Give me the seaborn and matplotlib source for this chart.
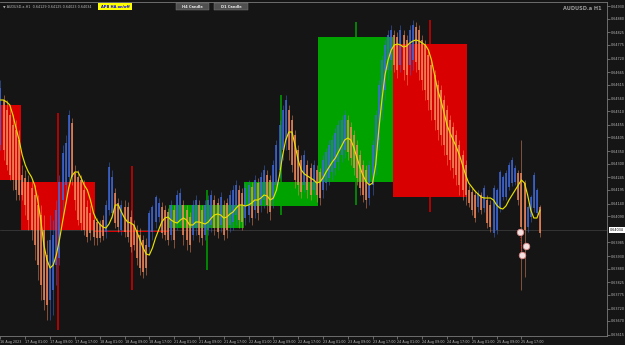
import numpy as np
import pandas as pd
import matplotlib
matplotlib.use("Agg")
import matplotlib.pyplot as plt
from matplotlib.patches import Rectangle
import seaborn as sns

# ---------------- data ----------------
bar_times = [t for t in pd.date_range("2023-08-16 17:00", "2023-08-25 23:00", freq="h") if t.weekday() < 5]

ha_open = [0.64374, 0.64554, 0.64514, 0.64494, 0.64454, 0.64434, 0.64394, 0.64254, 0.64242, 0.64226,
           0.64202, 0.64174, 0.64134, 0.64094, 0.64034, 0.63934, 0.63754, 0.63794, 0.63894, 0.63922,
           0.64154, 0.64214, 0.64246, 0.64462, 0.64262, 0.64246, 0.64234, 0.64194, 0.64126, 0.64102,
           0.64074, 0.64066, 0.64058, 0.64074, 0.64026, 0.64114, 0.64102, 0.64182, 0.64142, 0.64034,
           0.64126, 0.64126, 0.64086, 0.64054, 0.64034, 0.64014, 0.63994, 0.63974, 0.63966, 0.64026,
           0.64066, 0.64086, 0.64126, 0.64114, 0.64106, 0.64014, 0.64114, 0.64066, 0.64074, 0.64134,
           0.64114, 0.64086, 0.64014, 0.64042, 0.64134, 0.64114, 0.64014, 0.64034, 0.64054, 0.64154,
           0.64142, 0.64054, 0.64134, 0.64142, 0.64054, 0.64066, 0.64094, 0.64194, 0.64182, 0.64082,
           0.64094, 0.64206, 0.64114, 0.64222, 0.64134, 0.64154, 0.64254, 0.64234, 0.64154, 0.64214,
           0.64274, 0.64354, 0.64394, 0.64514, 0.64474, 0.64414, 0.64354, 0.64314, 0.64214, 0.64294,
           0.64282, 0.64194, 0.64274, 0.64266, 0.64194, 0.64222, 0.64242, 0.64266, 0.64282, 0.64306,
           0.64334, 0.64354, 0.64474, 0.64446, 0.64414, 0.64374, 0.64334, 0.64294, 0.64274, 0.64162,
           0.64214, 0.64294, 0.64394, 0.64514, 0.64594, 0.64674, 0.64714, 0.64814, 0.64806, 0.64694,
           0.64814, 0.64794, 0.64694, 0.64714, 0.64846, 0.64834, 0.64794, 0.64774, 0.64734, 0.64694,
           0.64654, 0.64614, 0.64594, 0.64554, 0.64514, 0.64474, 0.64446, 0.64414, 0.64374, 0.64334,
           0.64294, 0.64194, 0.64186, 0.64174, 0.64126, 0.64174, 0.64122, 0.64154, 0.64134, 0.64022,
           0.64034, 0.64122, 0.64166, 0.64166, 0.64206, 0.64222, 0.64226, 0.64262, 0.64262, 0.64222,
           0.64046, 0.64086, 0.64122, 0.64102, 0.64126]
ha_close = [0.64602, 0.64354, 0.64294, 0.64254, 0.64234, 0.64194, 0.64174, 0.64174, 0.64134, 0.64074,
            0.64034, 0.63974, 0.63894, 0.63814, 0.63754, 0.63734, 0.63994, 0.64014, 0.64114, 0.64226,
            0.64342, 0.64382, 0.64494, 0.64246, 0.64154, 0.64074, 0.64062, 0.64034, 0.64006, 0.64022,
            0.64006, 0.64002, 0.64002, 0.64010, 0.64134, 0.64286, 0.64246, 0.64062, 0.64046, 0.64134,
            0.64026, 0.64006, 0.63966, 0.63974, 0.63922, 0.63882, 0.63866, 0.63882, 0.64102, 0.64126,
            0.64166, 0.64142, 0.64022, 0.64014, 0.63994, 0.64134, 0.63994, 0.64174, 0.64182, 0.64014,
            0.63994, 0.63974, 0.64134, 0.64154, 0.64014, 0.64002, 0.64134, 0.64154, 0.64174, 0.64042,
            0.64026, 0.64166, 0.64014, 0.64034, 0.64174, 0.64194, 0.64214, 0.64074, 0.64066, 0.64202,
            0.64214, 0.64082, 0.64234, 0.64102, 0.64246, 0.64274, 0.64134, 0.64106, 0.64294, 0.64374,
            0.64454, 0.64514, 0.64554, 0.64354, 0.64294, 0.64234, 0.64214, 0.64186, 0.64334, 0.64194,
            0.64174, 0.64294, 0.64174, 0.64162, 0.64314, 0.64346, 0.64374, 0.64394, 0.64422, 0.64454,
            0.64474, 0.64494, 0.64346, 0.64322, 0.64282, 0.64242, 0.64202, 0.64174, 0.64154, 0.64294,
            0.64374, 0.64494, 0.64614, 0.64714, 0.64774, 0.64814, 0.64834, 0.64694, 0.64674, 0.64834,
            0.64674, 0.64654, 0.64834, 0.64854, 0.64706, 0.64674, 0.64634, 0.64594, 0.64554, 0.64514,
            0.64474, 0.64434, 0.64414, 0.64374, 0.64334, 0.64314, 0.64282, 0.64254, 0.64214, 0.64194,
            0.64174, 0.64142, 0.64114, 0.64082, 0.64182, 0.64114, 0.64202, 0.64062, 0.64046, 0.64202,
            0.64194, 0.64266, 0.64246, 0.64262, 0.64294, 0.64314, 0.64282, 0.64154, 0.64046, 0.64034,
            0.64126, 0.64166, 0.64254, 0.64194, 0.64022]
ha_high = [0.64634, 0.64574, 0.64554, 0.64534, 0.64494, 0.64474, 0.64434, 0.64294, 0.64274, 0.64254,
           0.64234, 0.64214, 0.64174, 0.64134, 0.64094, 0.63994, 0.64094, 0.64074, 0.64154, 0.64254,
           0.64374, 0.64414, 0.64514, 0.64482, 0.64294, 0.64274, 0.64254, 0.64234, 0.64154, 0.64134,
           0.64094, 0.64082, 0.64074, 0.64094, 0.64154, 0.64306, 0.64274, 0.64202, 0.64162, 0.64154,
           0.64154, 0.64146, 0.64114, 0.64074, 0.64054, 0.64042, 0.64014, 0.64002, 0.64114, 0.64134,
           0.64174, 0.64162, 0.64146, 0.64134, 0.64122, 0.64154, 0.64134, 0.64194, 0.64202, 0.64154,
           0.64134, 0.64106, 0.64154, 0.64174, 0.64154, 0.64134, 0.64154, 0.64174, 0.64194, 0.64174,
           0.64162, 0.64186, 0.64154, 0.64162, 0.64194, 0.64214, 0.64234, 0.64214, 0.64202, 0.64222,
           0.64234, 0.64226, 0.64254, 0.64242, 0.64266, 0.64294, 0.64274, 0.64254, 0.64314, 0.64394,
           0.64474, 0.64534, 0.64574, 0.64534, 0.64494, 0.64434, 0.64374, 0.64334, 0.64354, 0.64314,
           0.64302, 0.64314, 0.64294, 0.64282, 0.64334, 0.64362, 0.64394, 0.64414, 0.64442, 0.64474,
           0.64494, 0.64514, 0.64494, 0.64466, 0.64434, 0.64394, 0.64354, 0.64314, 0.64294, 0.64314,
           0.64394, 0.64514, 0.64634, 0.64734, 0.64794, 0.64834, 0.64854, 0.64834, 0.64826, 0.64854,
           0.64834, 0.64814, 0.64854, 0.64874, 0.64866, 0.64854, 0.64814, 0.64794, 0.64754, 0.64714,
           0.64674, 0.64634, 0.64614, 0.64574, 0.64534, 0.64494, 0.64466, 0.64434, 0.64394, 0.64354,
           0.64314, 0.64214, 0.64202, 0.64194, 0.64194, 0.64186, 0.64214, 0.64174, 0.64154, 0.64214,
           0.64202, 0.64274, 0.64254, 0.64274, 0.64306, 0.64326, 0.64294, 0.64274, 0.64394, 0.64234,
           0.64134, 0.64174, 0.64266, 0.64202, 0.64134]
ha_low = [0.64354, 0.64314, 0.64274, 0.64234, 0.64194, 0.64154, 0.64154, 0.64154, 0.64094, 0.64034,
          0.63994, 0.63914, 0.63834, 0.63754, 0.63714, 0.63674, 0.63674, 0.63694, 0.63814, 0.63894,
          0.64094, 0.64154, 0.64214, 0.64214, 0.64114, 0.64054, 0.64034, 0.64014, 0.63986, 0.63994,
          0.63974, 0.63974, 0.63986, 0.63994, 0.64002, 0.64094, 0.64082, 0.64042, 0.64026, 0.64014,
          0.64006, 0.63986, 0.63946, 0.63954, 0.63894, 0.63854, 0.63842, 0.63854, 0.63934, 0.63994,
          0.64042, 0.64066, 0.64002, 0.63994, 0.63974, 0.63994, 0.63962, 0.64034, 0.64054, 0.63974,
          0.63954, 0.63946, 0.63994, 0.64014, 0.63986, 0.63974, 0.63994, 0.64014, 0.64026, 0.64014,
          0.64002, 0.64026, 0.63994, 0.64002, 0.64026, 0.64034, 0.64054, 0.64042, 0.64034, 0.64054,
          0.64066, 0.64054, 0.64082, 0.64074, 0.64106, 0.64122, 0.64102, 0.64074, 0.64122, 0.64186,
          0.64242, 0.64314, 0.64354, 0.64314, 0.64266, 0.64202, 0.64174, 0.64162, 0.64186, 0.64162,
          0.64154, 0.64174, 0.64146, 0.64134, 0.64162, 0.64194, 0.64214, 0.64234, 0.64254, 0.64274,
          0.64306, 0.64322, 0.64314, 0.64294, 0.64254, 0.64214, 0.64174, 0.64146, 0.64122, 0.64134,
          0.64174, 0.64254, 0.64354, 0.64474, 0.64554, 0.64634, 0.64674, 0.64666, 0.64642, 0.64666,
          0.64634, 0.64614, 0.64654, 0.64674, 0.64666, 0.64634, 0.64594, 0.64554, 0.64514, 0.64474,
          0.64434, 0.64394, 0.64374, 0.64334, 0.64294, 0.64274, 0.64242, 0.64214, 0.64174, 0.64154,
          0.64134, 0.64126, 0.64094, 0.64066, 0.64106, 0.64098, 0.64106, 0.64042, 0.64026, 0.64006,
          0.64018, 0.64106, 0.64154, 0.64154, 0.64194, 0.64210, 0.64214, 0.64134, 0.63794, 0.63846,
          0.64026, 0.64066, 0.64106, 0.64086, 0.64006]
smooth_line = [0.64554, 0.64554, 0.64546, 0.64534, 0.64494, 0.64442, 0.64394, 0.64334, 0.64294, 0.64266,
               0.64246, 0.64214, 0.64154, 0.64074, 0.63974, 0.63914, 0.63882, 0.63894, 0.63934, 0.63994,
               0.64066, 0.64134, 0.64202, 0.64250, 0.64266, 0.64266, 0.64242, 0.64214, 0.64194, 0.64154,
               0.64102, 0.64074, 0.64058, 0.64046, 0.64042, 0.64058, 0.64086, 0.64134, 0.64134, 0.64106,
               0.64082, 0.64066, 0.64062, 0.64054, 0.64026, 0.63994, 0.63962, 0.63938, 0.63934, 0.63962,
               0.64002, 0.64034, 0.64066, 0.64082, 0.64086, 0.64074, 0.64066, 0.64062, 0.64074, 0.64082,
               0.64074, 0.64054, 0.64054, 0.64066, 0.64066, 0.64062, 0.64058, 0.64066, 0.64082, 0.64094,
               0.64098, 0.64094, 0.64082, 0.64086, 0.64098, 0.64106, 0.64122, 0.64134, 0.64134, 0.64130,
               0.64134, 0.64142, 0.64154, 0.64154, 0.64162, 0.64174, 0.64170, 0.64154, 0.64162, 0.64194,
               0.64254, 0.64334, 0.64394, 0.64426, 0.64426, 0.64374, 0.64314, 0.64274, 0.64258, 0.64250,
               0.64242, 0.64234, 0.64222, 0.64226, 0.64242, 0.64266, 0.64286, 0.64306, 0.64322, 0.64346,
               0.64370, 0.64394, 0.64402, 0.64394, 0.64362, 0.64322, 0.64282, 0.64250, 0.64226, 0.64214,
               0.64222, 0.64294, 0.64434, 0.64554, 0.64654, 0.64714, 0.64754, 0.64774, 0.64778, 0.64774,
               0.64766, 0.64770, 0.64782, 0.64790, 0.64794, 0.64790, 0.64782, 0.64774, 0.64754, 0.64714,
               0.64654, 0.64594, 0.64554, 0.64506, 0.64454, 0.64422, 0.64394, 0.64366, 0.64334, 0.64294,
               0.64254, 0.64222, 0.64206, 0.64190, 0.64178, 0.64166, 0.64162, 0.64162, 0.64162, 0.64154,
               0.64134, 0.64122, 0.64118, 0.64130, 0.64154, 0.64174, 0.64194, 0.64214, 0.64234, 0.64222,
               0.64174, 0.64114, 0.64082, 0.64082, 0.64114]

# Daily candles
d1_days = ["2023-08-16", "2023-08-17", "2023-08-18", "2023-08-21", "2023-08-22", "2023-08-23", "2023-08-24"]
d1_open = [0.64534, 0.64226, 0.64034, 0.64042, 0.64130, 0.64226, 0.64778]
d1_close = [0.64234, 0.64034, 0.64026, 0.64134, 0.64226, 0.64806, 0.64166]
d1_high = [0.64614, 0.64502, 0.64290, 0.64194, 0.64574, 0.64866, 0.64874]
d1_low = [0.64154, 0.63634, 0.63794, 0.63874, 0.64094, 0.64134, 0.64106]

current_price = 0.64034
price_ticks = [0.64930, 0.64880, 0.64825, 0.64775, 0.64720, 0.64665, 0.64615, 0.64560, 0.64510,
               0.64455, 0.64405, 0.64350, 0.64300, 0.64245, 0.64195, 0.64140, 0.64090, 0.63985,
               0.63930, 0.63880, 0.63825, 0.63775, 0.63720, 0.63670, 0.63615]
time_tick_labels = ["16 Aug 2023", "17 Aug 01:00", "17 Aug 09:00", "17 Aug 17:00", "18 Aug 01:00",
                    "18 Aug 09:00", "18 Aug 17:00", "21 Aug 01:00", "21 Aug 09:00", "21 Aug 17:00",
                    "22 Aug 01:00", "22 Aug 09:00", "22 Aug 17:00", "23 Aug 01:00", "23 Aug 09:00",
                    "23 Aug 17:00", "24 Aug 01:00", "24 Aug 09:00", "24 Aug 17:00", "25 Aug 01:00",
                    "25 Aug 09:00", "25 Aug 17:00"]
# trade markers (bar position, price)
marker_bar = [167.7, 169.5, 168.2]
marker_price = [0.64026, 0.63970, 0.63934]

# ---------------- style ----------------
BG = "#151515"
BLUE = "#4069dc"
ORANGE = "#f38a5c"
RED = "#d80000"
GREEN = "#00a200"
YELLOW = "#e6e000"
TXT = "#b8b8b8"

sns.set_theme(style="dark", rc={"axes.facecolor": BG, "figure.facecolor": BG})
plt.rcParams["font.family"] = ["DejaVu Sans"]

n = len(bar_times)
df = pd.DataFrame({"t": bar_times, "o": ha_open, "c": ha_close, "h": ha_high, "l": ha_low,
                   "ma": smooth_line})
df["i"] = np.arange(n)
df["up"] = df["c"] >= df["o"]

W, H = 625, 345
fig = plt.figure(figsize=(W / 100, H / 100), dpi=100, facecolor=BG)
ax = fig.add_axes([0, 9 / H, 607 / W, 334 / H])
ax.set_facecolor(BG)

# daily boxes
first_idx = df.groupby(df["t"].dt.date)["i"].min()
first_hour = df.groupby(df["t"].dt.date)["t"].min().dt.hour
for d, o, c, h, l in zip(d1_days, d1_open, d1_close, d1_high, d1_low):
    key = pd.Timestamp(d).date()
    start = first_idx[key] - first_hour[key]
    center = start + 11.5
    col = GREEN if c >= o else RED
    ax.bar(center, max(abs(c - o), 0.00006), bottom=min(o, c), width=24, color=col,
           linewidth=0, zorder=1)
    ax.vlines(center, l, h, color=col, lw=1.1, zorder=1.5)

# current price line
ax.axhline(current_price, color="#3a3a3a", lw=0.6, zorder=1.2)

# Heiken Ashi bars
for up, col in [(True, BLUE), (False, ORANGE)]:
    s = df[df["up"] == up]
    ax.vlines(s["i"], s["l"], s["h"], color=col, lw=0.5, alpha=0.7, zorder=2)
    ax.vlines(s["i"], s[["o", "c"]].min(axis=1), s[["o", "c"]].max(axis=1), color=col,
              lw=1.1, zorder=2.1)

# smoothed line
sns.lineplot(data=df, x="i", y="ma", color=YELLOW, lw=0.85, ax=ax, zorder=3)

# trade markers
ax.plot([marker_bar[0], marker_bar[2]], [marker_price[0], marker_price[2]], ls=":", color="#ff3030",
        lw=0.7, zorder=3.5)
ax.scatter(marker_bar, marker_price, s=22, facecolor="#f2e2e2", edgecolor="#e08a8a", lw=0.6,
           zorder=4)

# axes
ax.set_xlim(-0.16, 195.6)
ax.set_ylim(0.63610, 0.64946)
ax.set_xlabel("")
ax.set_ylabel("")
ax.grid(False)
ax.yaxis.tick_right()
ax.set_yticks(price_ticks)
ax.set_yticklabels([f"{v:.5f}" for v in price_ticks])
ax.set_xticks(np.arange(0, 8 * len(time_tick_labels), 8))
ax.set_xticklabels(time_tick_labels)
for lab in ax.get_xticklabels():
    lab.set_ha("left")
ax.tick_params(axis="both", colors="#8a8a8a", labelcolor=TXT, labelsize=2.4, length=2,
               width=0.5, pad=1, direction="out")
ax.tick_params(axis="y", right=True, left=False)
ax.tick_params(axis="x", bottom=True)
ax.spines["left"].set_visible(False)
for side in ["right", "bottom", "top"]:
    ax.spines[side].set_color("#7a7a7a")
    ax.spines[side].set_linewidth(0.6)

# current price label
ax.annotate(f"{current_price:.5f}", xy=(1, current_price), xycoords=("axes fraction", "data"),
            xytext=(2.2, 0), textcoords="offset points", ha="left", va="center",
            fontsize=2.4, color="#000000",
            bbox=dict(boxstyle="square,pad=0.25", fc="#ffffff", ec="none"))

# header texts and buttons
def fx(x):
    return x / W

def fy(y):
    return 1 - y / H

fig.text(fx(3), fy(6.5), "\u25bc AUDUSD.a,H1  0.64129 0.64125 0.64023 0.64034", fontsize=2.4,
         color=TXT, ha="left", va="center")
for x0, x1, fc, tc, label in [(98, 132, "#ffff00", "#0000ff", "APB HA on/off"),
                              (176, 209, "#505050", "#e8e8e8", "H4 Candle"),
                              (214, 248, "#505050", "#e8e8e8", "D1 Candle")]:
    fig.patches.append(Rectangle((fx(x0), fy(10)), fx(x1 - x0), (7 / H), transform=fig.transFigure,
                                 facecolor=fc, edgecolor="#808080" if fc != "#ffff00" else "none",
                                 lw=0.3, zorder=5))
    fig.text(fx((x0 + x1) / 2), fy(6.5), label, fontsize=2.6, color=tc, fontweight="bold",
             ha="center", va="center", zorder=6)
fig.text(fx(602), fy(8.5), "AUDUSD.a H1", fontsize=3.6, color="#9a9a9a", fontweight="bold",
         ha="right", va="center")

fig.savefig("out.png", dpi=100, facecolor=BG)
